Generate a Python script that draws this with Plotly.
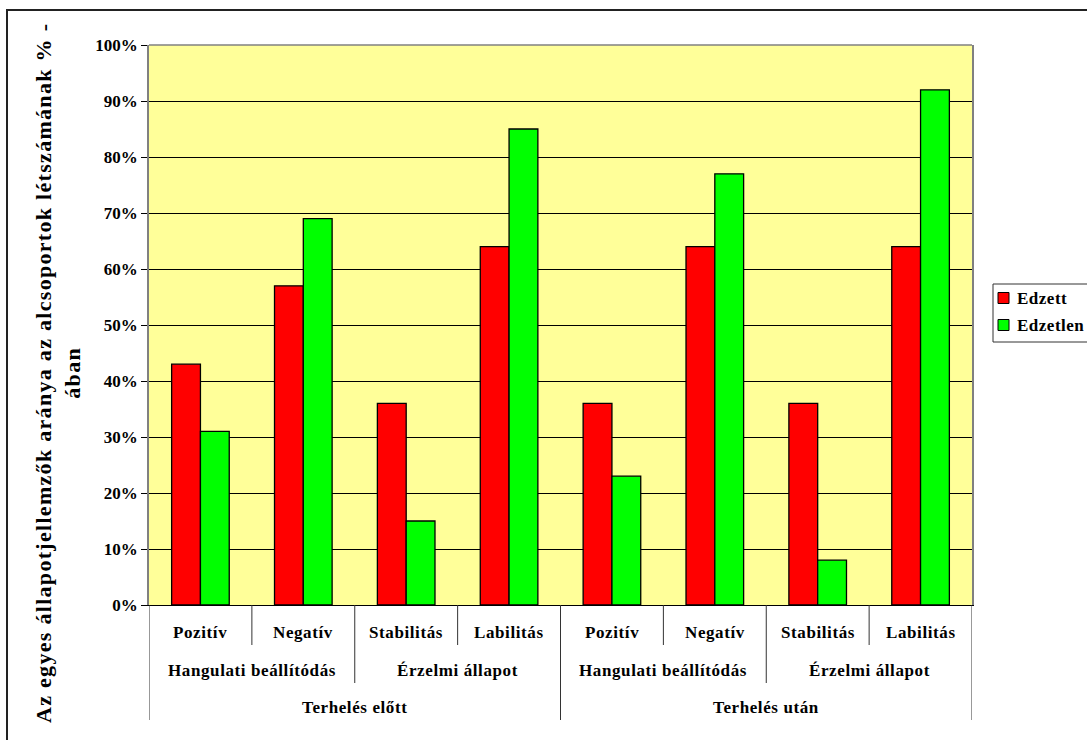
import plotly.graph_objects as go

# Category hierarchy (innermost to outermost)
subcategories = ["Pozitív", "Negatív", "Stabilitás", "Labilitás",
                 "Pozitív", "Negatív", "Stabilitás", "Labilitás"]
groups = ["Hangulati beállítódás", "Érzelmi állapot",
          "Hangulati beállítódás", "Érzelmi állapot"]
supergroups = ["Terhelés előtt", "Terhelés után"]

# Series values (%)
edzett = [43, 57, 36, 64, 36, 64, 36, 64]
edzetlen = [31, 69, 15, 85, 23, 77, 8, 92]

series_names = ["Edzett", "Edzetlen"]
series_colors = ["#FF0000", "#00FF00"]

y_title = "Az egyes állapotjellemzők aránya az alcsoportok létszámának % -<br>ában"

FONT = "Liberation Serif"

W, H = 1087, 740
L, R, T, B = 149, 115, 45, 135
PW, PH = W - L - R, H - T - B


def xp(px):
    return (px - L) / PW


def yp(py):
    return (H - B - py) / PH


def spaced(text, ls):
    return f"<span style='letter-spacing:{ls}px'>{text}</span>"


def bfont(size):
    return dict(family=FONT, size=size, color="black", weight="bold")


xpos = list(range(len(subcategories)))

fig = go.Figure()
for name, vals, col in zip(series_names, [edzett, edzetlen], series_colors):
    fig.add_trace(go.Bar(
        x=xpos, y=vals, name=name,
        marker=dict(color=col, line=dict(color="black", width=1.3)),
        showlegend=False,
    ))

shapes = []
annotations = []

# Outer chart frame
shapes.append(dict(type="rect", xref="paper", yref="paper",
                   x0=xp(7), x1=xp(1100), y0=yp(760), y1=yp(10),
                   line=dict(color="#222222", width=2), layer="below"))
# Top border of plot area
shapes.append(dict(type="line", xref="paper", yref="paper",
                   x0=0, x1=1, y0=1, y1=1,
                   line=dict(color="#808080", width=1.5)))

# Multi-level category labels and separators
lvl1_y, lvl2_y, lvl3_y = yp(632), yp(670), yp(707)
lvl1_end, lvl2_end, lvl3_end = yp(645), yp(683), yp(720)

for i, s in enumerate(subcategories):
    annotations.append(dict(x=i, y=lvl1_y, xref="x", yref="paper",
                            text=spaced(s, 0.6), showarrow=False,
                            font=bfont(17), xanchor="center", yanchor="middle"))

n_sub_per_group = len(subcategories) // len(groups)
for g, name in enumerate(groups):
    cx = g * n_sub_per_group + (n_sub_per_group - 1) / 2
    annotations.append(dict(x=cx, y=lvl2_y, xref="x", yref="paper",
                            text=spaced(name, 0.6), showarrow=False,
                            font=bfont(17), xanchor="center", yanchor="middle"))

n_sub_per_super = len(subcategories) // len(supergroups)
for g, name in enumerate(supergroups):
    cx = g * n_sub_per_super + (n_sub_per_super - 1) / 2
    annotations.append(dict(x=cx, y=lvl3_y, xref="x", yref="paper",
                            text=spaced(name, 0.6), showarrow=False,
                            font=bfont(17), xanchor="center", yanchor="middle"))

for b in range(len(subcategories) + 1):
    xb = b - 0.5
    if b % n_sub_per_super == 0:
        y_end = lvl3_end
    elif b % n_sub_per_group == 0:
        y_end = lvl2_end
    else:
        y_end = lvl1_end
    shapes.append(dict(type="line", xref="x", yref="paper",
                       x0=xb, x1=xb, y0=0, y1=y_end,
                       line=dict(color="#333333", width=1)))

# Y-axis title
annotations.append(dict(x=xp(58), y=yp(373), xref="paper", yref="paper",
                        text=spaced(y_title, 1.3), showarrow=False,
                        textangle=-90, font=bfont(22),
                        xanchor="center", yanchor="middle"))

# Legend box
shapes.append(dict(type="rect", xref="paper", yref="paper",
                   x0=xp(993), x1=xp(1100), y0=yp(342), y1=yp(284),
                   line=dict(color="#333333", width=1), fillcolor="white"))
for k, (name, col) in enumerate(zip(series_names, series_colors)):
    cy = 298 + k * 27
    shapes.append(dict(type="rect", xref="paper", yref="paper",
                       x0=xp(998), x1=xp(1009), y0=yp(cy + 5.5), y1=yp(cy - 5.5),
                       line=dict(color="black", width=1), fillcolor=col))
    annotations.append(dict(x=xp(1015), y=yp(cy), xref="paper", yref="paper",
                            text=spaced(name, 0.5), showarrow=False,
                            font=bfont(17), xanchor="left", yanchor="middle"))

fig.update_layout(
    width=W, height=H,
    margin=dict(l=L, r=R, t=T, b=B),
    paper_bgcolor="white",
    plot_bgcolor="#FFFF99",
    font=dict(family=FONT),
    barmode="group",
    bargap=0.44,
    bargroupgap=0,
    shapes=shapes,
    annotations=annotations,
    showlegend=False,
    xaxis=dict(range=[-0.5, len(subcategories) - 0.5], showticklabels=False,
               ticks="", showgrid=False, zeroline=False,
               showline=True, linecolor="black", linewidth=1),
    yaxis=dict(range=[0, 100], dtick=10, ticksuffix="%",
               tickfont=bfont(17),
               ticks="outside", ticklen=6, tickcolor="black", tickwidth=1,
               showgrid=True, gridcolor="black", gridwidth=1,
               zeroline=False, showline=True, linecolor="#808080",
               linewidth=1.5, mirror=True),
)

fig.write_html("out.html")
